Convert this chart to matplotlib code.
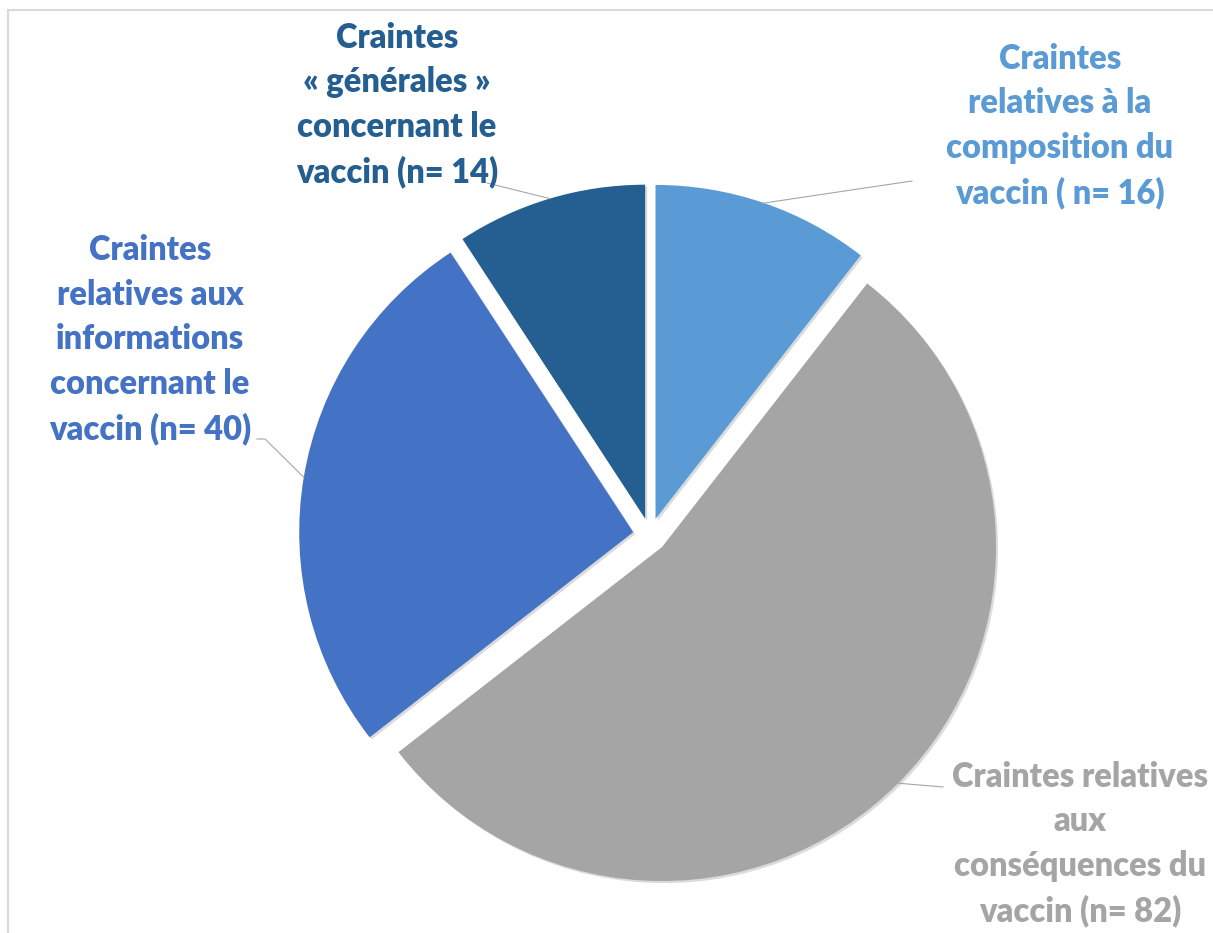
import numpy as np
import matplotlib
matplotlib.use("Agg")
import matplotlib.pyplot as plt
import matplotlib.patheffects as pe

plt.rcParams['font.family'] = ['Lato', 'DejaVu Sans']

# data
labels = [
    "Craintes\nrelatives à la\ncomposition du\nvaccin ( n= 16)",
    "Craintes relatives\naux\nconséquences du\nvaccin (n= 82)",
    "Craintes\nrelatives aux\ninformations\nconcernant le\nvaccin (n= 40)",
    "Craintes\n« générales »\nconcernant le\nvaccin (n= 14)",
]
counts = [16, 82, 40, 14]
colors = ["#5B9BD5", "#A5A5A5", "#4472C4", "#255E91"]

# label placement (image pixels, y from top) and leader line end at the text side
text_xy = [(1060, 126), (1080, 844), (150, 340), (397, 105)]
leader_end = [[(912, 181)], [(943, 787)], [(265, 439), (257, 439)], [(487, 183)]]

W, H = 1213, 933
fig = plt.figure(figsize=(W / 100, H / 100), dpi=100)
ax = fig.add_axes([0, 0, 1, 1])

wedges, _ = ax.pie(counts, colors=colors, startangle=90, counterclock=False,
                   radius=334, center=(650, H - 535), explode=[17] * 4,
                   wedgeprops=dict(linewidth=0))
for w in wedges:
    w.set_path_effects([pe.SimplePatchShadow(offset=(1.5, -1.5), shadow_rgbFace='#999999', alpha=0.35),
                        pe.Normal()])

ax.set_xlim(0, W)
ax.set_ylim(0, H)
ax.set_aspect('equal')
ax.axis('off')

for w, lab, c, (tx, ty), ends in zip(wedges, labels, colors, text_xy, leader_end):
    mid = np.deg2rad((w.theta1 + w.theta2) / 2)
    cx, cy = w.center
    ax_pt = (cx + w.r * np.cos(mid), cy + w.r * np.sin(mid))
    pts = [ax_pt] + [(x, H - y) for x, y in ends]
    xs, ys = zip(*pts)
    ax.plot(xs, ys, color='#A6A6A6', lw=0.8, zorder=1)
    ax.text(tx, H - ty, lab, ha='center', va='center', color=c,
            fontsize=23.5, fontweight='heavy', linespacing=1.48)

# chart frame
ax.plot([8, W], [H - 10, H - 10], color='#D9D9D9', lw=1.5, clip_on=False)
ax.plot([8, 8], [0, H - 10], color='#D9D9D9', lw=1.5, clip_on=False)

fig.savefig("out.png", dpi=100)
